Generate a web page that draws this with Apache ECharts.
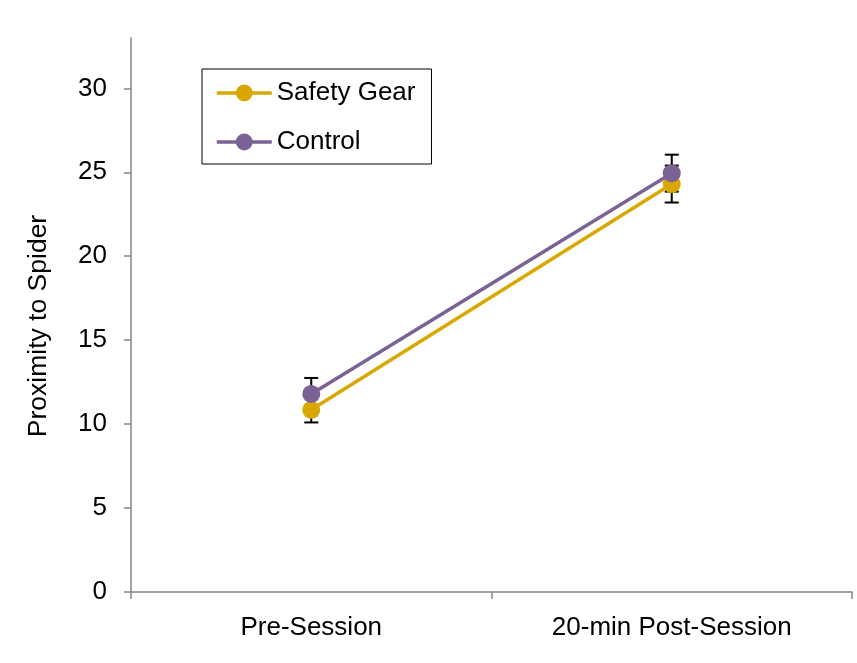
<!DOCTYPE html>
<html>
<head>
<meta charset="utf-8">
<script src="https://cdn.jsdelivr.net/npm/echarts@6/dist/echarts.min.js"></script>
<style>
html, body { margin: 0; padding: 0; background: #fff; }
#chart { width: 857px; height: 663px; }
</style>
</head>
<body>
<div id="chart"></div>
<script>
var categories = ['Pre-Session', '20-min Post-Session'];
var safetyGear = [10.85, 24.3];
var control = [11.8, 24.95];
// standard error, one per category
var safetyErr = [0.75, 1.1];
var controlErr = [0.95, 1.1];
var yTicks = [0, 5, 10, 15, 20, 25, 30];

var gold = '#D9A800';
var purple = '#7A6294';
var fontName = 'Liberation Sans';

// error bar rows: [category index, low, high]
var errData = [];
for (var i = 0; i < categories.length; i++) {
	errData.push([i, safetyGear[i] - safetyErr[i], safetyGear[i] + safetyErr[i]]);
	errData.push([i, control[i] - controlErr[i], control[i] + controlErr[i]]);
}

function renderErr(params, api) {
	var x = api.value(0);
	var lo = api.coord([x, api.value(1)]);
	var hi = api.coord([x, api.value(2)]);
	var w = 7;
	var style = { stroke: '#000', lineWidth: 2 };
	return {
		type: 'group',
		children: [
			{ type: 'line', shape: { x1: hi[0], y1: hi[1], x2: lo[0], y2: lo[1] }, style: style },
			{ type: 'line', shape: { x1: hi[0] - w, y1: hi[1], x2: hi[0] + w, y2: hi[1] }, style: style },
			{ type: 'line', shape: { x1: lo[0] - w, y1: lo[1], x2: lo[0] + w, y2: lo[1] }, style: style }
		]
	};
}

var axisGray = '#868686';

var option = {
	animation: false,
	backgroundColor: '#fff',
	textStyle: { fontFamily: fontName },
	grid: { left: 131, right: 5, top: 38, bottom: 71 },
	legend: {
		orient: 'vertical',
		left: 202,
		top: 69,
		padding: [11, 16, 9, 13],
		borderColor: '#000',
		borderWidth: 1,
		itemWidth: 55,
		itemHeight: 21,
		itemGap: 23,
		data: ['Safety Gear', 'Control'],
		lineStyle: { width: 3.5 },
		textStyle: { fontSize: 26, color: '#000', fontFamily: fontName, lineHeight: 24 }
	},
	xAxis: {
		type: 'category',
		data: categories,
		boundaryGap: true,
		axisLine: { lineStyle: { color: axisGray, width: 1.5 } },
		axisTick: { show: true, length: 7, lineStyle: { color: axisGray, width: 1.5 } },
		axisLabel: { fontSize: 26, color: '#000', margin: 23, fontFamily: fontName }
	},
	yAxis: {
		type: 'value',
		min: 0,
		max: 33,
		interval: 5,
		name: 'Proximity to Spider',
		nameLocation: 'middle',
		nameGap: 79,
		nameTextStyle: { fontSize: 26.5, color: '#000', fontFamily: fontName, padding: [0, 22, 0, 0] },
		axisLine: { show: true, lineStyle: { color: axisGray, width: 1.5 } },
		axisTick: { show: true, length: 7, lineStyle: { color: axisGray, width: 1.5 } },
		splitLine: { show: false },
		axisLabel: {
			fontSize: 26, color: '#000', margin: 24, fontFamily: fontName,
			showMaxLabel: false,
			formatter: function (v) { return yTicks.indexOf(v) >= 0 ? String(v) : ''; }
		}
	},
	series: [
		{
			type: 'custom',
			name: 'err',
			renderItem: renderErr,
			data: errData,
			z: 1,
			encode: { x: 0, y: [1, 2] }
		},
		{
			name: 'Safety Gear',
			type: 'line',
			data: safetyGear,
			symbol: 'circle',
			symbolSize: 18,
			z: 2,
			color: gold,
			lineStyle: { color: gold, width: 3.5 },
			itemStyle: { color: gold }
		},
		{
			name: 'Control',
			type: 'line',
			data: control,
			symbol: 'circle',
			symbolSize: 18,
			z: 3,
			color: purple,
			lineStyle: { color: purple, width: 3.5 },
			itemStyle: { color: purple }
		}
	]
};

var myChart = echarts.init(document.getElementById('chart'));
myChart.setOption(option);
</script>
</body>
</html>
